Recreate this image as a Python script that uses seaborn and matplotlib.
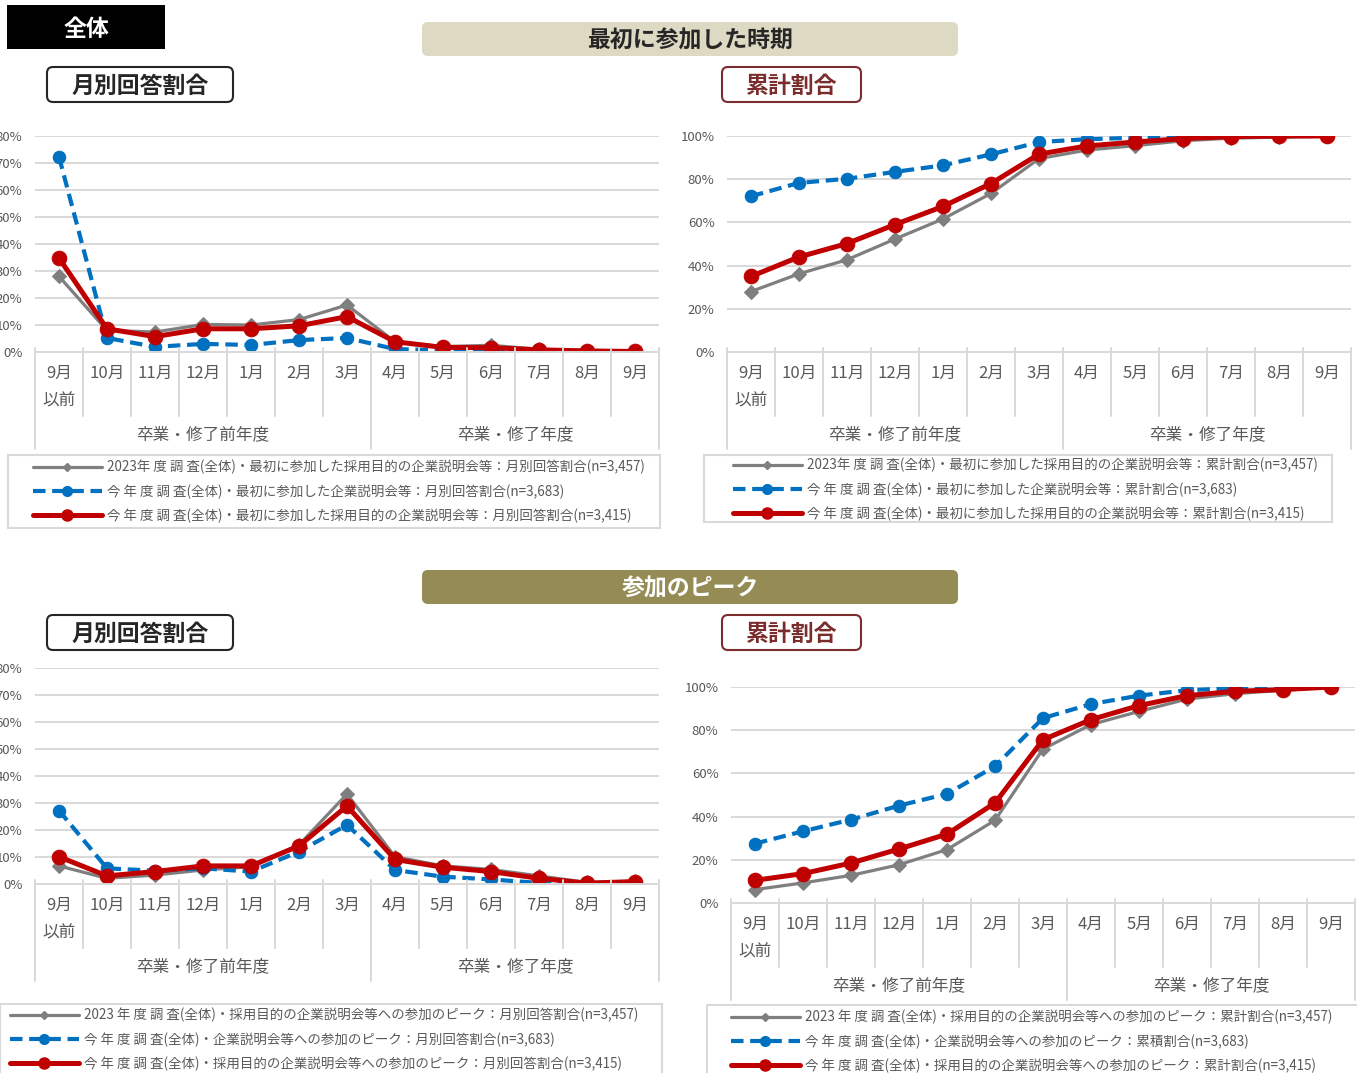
import numpy as np
import pandas as pd
import matplotlib
matplotlib.use("Agg")
import matplotlib.pyplot as plt
import matplotlib.transforms as mtrans
from matplotlib.patches import FancyBboxPatch, Rectangle
from matplotlib.lines import Line2D
import seaborn as sns

sns.set_style("white")
plt.rcParams['font.family'] = ['Noto Sans CJK JP', 'DejaVu Sans']

# ---- data (percent) ----
months = ["9月\n以前", "10月", "11月", "12月", "1月", "2月", "3月",
          "4月", "5月", "6月", "7月", "8月", "9月"]
groups = ["卒業・修了前年度", "卒業・修了年度"]

first_monthly_2023 = [28, 8, 7.4, 10.2, 10, 12, 17.4, 3.8, 2, 2.5, 1, 0.5, 0.3]
first_monthly_all = [72.3, 5.2, 1.9, 3.0, 2.6, 4.4, 5.2, 1.1, 0.6, 0.5, 0.3, 0.2, 0.1]
first_monthly_now = [34.8, 8.6, 5.7, 8.6, 8.6, 9.7, 13.1, 3.8, 1.7, 1.6, 0.8, 0.4, 0.2]

first_cum_2023 = [28, 36.2, 42.7, 52.3, 61.6, 73.4, 89.5, 93.5, 95.5, 97.8, 99, 99.5, 100]
first_cum_all = [72.1, 78.3, 80.2, 83.4, 86.4, 91.5, 97.2, 98.5, 99.2, 99.6, 99.8, 99.9, 100]
first_cum_now = [35, 44, 50.2, 59, 67.4, 78, 91.6, 95.4, 97.2, 98.8, 99.7, 100, 100]

peak_monthly_2023 = [6.7, 2.1, 3.3, 5.2, 6.4, 14.5, 33.3, 10.1, 6.7, 5.4, 3, 0.6, 1]
peak_monthly_all = [27.2, 5.8, 4.9, 5.8, 4.6, 12, 21.9, 5.2, 2.7, 1.7, 0.4, 0.3, 0.2]
peak_monthly_now = [10.1, 3, 4.6, 6.7, 6.7, 14.1, 28.9, 9.1, 6.2, 4.6, 2.1, 0.3, 0.9]

peak_cum_2023 = [6.2, 9.3, 12.8, 17.7, 24.7, 38.3, 71.3, 82.6, 88.7, 94.4, 96.9, 98.5, 100]
peak_cum_all = [27.5, 33.2, 38.6, 45.1, 50.5, 63.3, 85.6, 92.1, 96, 98.5, 99.5, 99.7, 100]
peak_cum_now = [10.5, 13.6, 18.5, 25, 31.9, 46.3, 75.6, 84.9, 91.4, 96, 98, 98.8, 100]

legend_first_monthly = [
    "2023年 度 調 査(全体)・最初に参加した採用目的の企業説明会等：月別回答割合(n=3,457)",
    "今 年 度 調 査(全体)・最初に参加した企業説明会等：月別回答割合(n=3,683)",
    "今 年 度 調 査(全体)・最初に参加した採用目的の企業説明会等：月別回答割合(n=3,415)"]
legend_first_cum = [
    "2023年 度 調 査(全体)・最初に参加した採用目的の企業説明会等：累計割合(n=3,457)",
    "今 年 度 調 査(全体)・最初に参加した企業説明会等：累計割合(n=3,683)",
    "今 年 度 調 査(全体)・最初に参加した採用目的の企業説明会等：累計割合(n=3,415)"]
legend_peak_monthly = [
    "2023 年 度 調 査(全体)・採用目的の企業説明会等への参加のピーク：月別回答割合(n=3,457)",
    "今 年 度 調 査(全体)・企業説明会等への参加のピーク：月別回答割合(n=3,683)",
    "今 年 度 調 査(全体)・採用目的の企業説明会等への参加のピーク：月別回答割合(n=3,415)"]
legend_peak_cum = [
    "2023 年 度 調 査(全体)・採用目的の企業説明会等への参加のピーク：累計割合(n=3,457)",
    "今 年 度 調 査(全体)・企業説明会等への参加のピーク：累積割合(n=3,683)",
    "今 年 度 調 査(全体)・採用目的の企業説明会等への参加のピーク：累計割合(n=3,415)"]

GRAY, BLUE, RED = "#7F7F7F", "#0070C0", "#C00000"
GRID = "#D9D9D9"
TXT = "#595959"
DARKRED = "#7B2C2C"

W, H = 1357, 1073
fig = plt.figure(figsize=(W / 100, H / 100), dpi=100)


def fx(x):
    return x / W


def fy(y):
    return 1 - y / H


def box(x0, y0, x1, y1, fc, ec="none", lw=0, rounded=True):
    style = "round,pad=0,rounding_size=0.06" if rounded else "square,pad=0"
    p = FancyBboxPatch(((x0) / 100, (H - y1) / 100), (x1 - x0) / 100, (y1 - y0) / 100,
                       boxstyle=style, fc=fc, ec=ec, lw=lw,
                       transform=fig.dpi_scale_trans)
    fig.add_artist(p)


def panel(left, top, right, bottom, s_gray, s_blue, s_red, ymax, ystep, grid_from):
    ax = fig.add_axes([fx(left), fy(bottom), fx(right - left), (bottom - top) / H])
    x = np.arange(len(months))
    df = pd.DataFrame({"x": x, "g": s_gray, "b": s_blue, "r": s_red})
    sns.lineplot(data=df, x="x", y="g", ax=ax, color=GRAY, lw=2.3, marker="D",
                 markersize=7, markeredgecolor=GRAY)
    sns.lineplot(data=df, x="x", y="b", ax=ax, color=BLUE, lw=3.0, linestyle=(0, (3, 1.6)),
                 marker="o", markersize=9, markeredgecolor=BLUE)
    sns.lineplot(data=df, x="x", y="r", ax=ax, color=RED, lw=3.6, marker="o",
                 markersize=10.5, markeredgecolor=RED)
    ax.set_xlim(-0.5, len(months) - 0.5)
    ax.set_ylim(0, ymax)
    yt = np.arange(0, ymax + 0.1, ystep)
    ax.set_yticks(yt)
    ax.set_yticklabels([f"{int(v)}%" for v in yt])
    for v in yt:
        if v >= grid_from:
            ax.axhline(v, color=GRID, lw=1.4, zorder=0)
    ax.set_xticks(x)
    ax.set_xticklabels(months)
    for lbl in ax.get_xticklabels():
        lbl.set_linespacing(1.85)
    ax.tick_params(axis="x", length=0, pad=9, labelsize=12, labelcolor=TXT)
    ax.tick_params(axis="y", length=0, pad=9, labelsize=9.5, labelcolor=TXT)
    ax.set_xlabel("")
    ax.set_ylabel("")
    for s in ["top", "right", "left"]:
        ax.spines[s].set_visible(False)
    ax.spines["bottom"].set_color(GRID)
    ax.spines["bottom"].set_linewidth(1.4)
    tr = mtrans.blended_transform_factory(ax.transData, ax.transAxes)
    h = bottom - top
    for k in range(len(months) + 1):
        xs = k - 0.5
        lo = -97 / h if k in (0, 7, len(months)) else -64 / h
        ax.plot([xs, xs], [0.02, lo], color=GRID, lw=1.4, transform=tr, clip_on=False)
    ax.text(3, -83 / h, groups[0], transform=tr, ha="center", va="center",
            fontsize=12, color=TXT)
    ax.text(9.5, -83 / h, groups[1], transform=tr, ha="center", va="center",
            fontsize=12, color=TXT)
    return ax


def legend(x0, y0, x1, y1, hx, ty, labels):
    fig.add_artist(Rectangle((fx(x0), fy(y1)), fx(x1 - x0), (y1 - y0) / H,
                             fill=False, ec=GRID, lw=1.5, transform=fig.transFigure))
    handles = [
        Line2D([], [], color=GRAY, lw=2.3, marker="D", markersize=4),
        Line2D([], [], color=BLUE, lw=3.0, linestyle=(0, (3, 1.6)), marker="o", markersize=7),
        Line2D([], [], color=RED, lw=3.6, marker="o", markersize=8),
    ]
    fig.legend(handles, labels, loc="upper left", bbox_to_anchor=(fx(hx), fy(ty)),
               frameon=False, fontsize=9.7, handlelength=5.1, handletextpad=0.4,
               labelspacing=0.72, borderpad=0, borderaxespad=0, labelcolor=TXT)


panel(35, 136, 659, 352, first_monthly_2023, first_monthly_all, first_monthly_now, 80, 10, 10)
panel(727, 136, 1351, 352, first_cum_2023, first_cum_all, first_cum_now, 100, 20, 20)
panel(35, 668, 659, 884, peak_monthly_2023, peak_monthly_all, peak_monthly_now, 80, 10, 10)
panel(731, 687, 1355, 903, peak_cum_2023, peak_cum_all, peak_cum_now, 100, 20, 20)

legend(8, 455, 660, 528, 33, 460, legend_first_monthly)
legend(704, 455, 1332, 522, 733, 458, legend_first_cum)
legend(0, 1004, 662, 1090, 10, 1008, legend_peak_monthly)
legend(707, 1005, 1370, 1090, 731, 1010, legend_peak_cum)

# ---- headers ----
box(7, 5, 165, 49, "black", rounded=False)
fig.text(fx(86), fy(29), "全体", ha="center", va="center", fontsize=16.5,
         fontweight="bold", color="white")
box(422, 22, 958, 56, "#DDD9C3")
fig.text(fx(690), fy(41), "最初に参加した時期", ha="center", va="center",
         fontsize=16.5, fontweight="bold", color="#262626")
box(422, 570, 958, 604, "#958B54")
fig.text(fx(690), fy(589), "参加のピーク", ha="center", va="center",
         fontsize=16.5, fontweight="bold", color="white")
for yy in (67, 615):
    box(47, yy, 233, yy + 35, "white", ec="#262626", lw=1.5)
    fig.text(fx(140), fy(yy + 19), "月別回答割合", ha="center", va="center",
             fontsize=16.5, fontweight="bold", color="#262626")
    box(722, yy, 861, yy + 35, "white", ec=DARKRED, lw=1.5)
    fig.text(fx(791), fy(yy + 19), "累計割合", ha="center", va="center",
             fontsize=16.5, fontweight="bold", color=DARKRED)

fig.savefig("out.png", dpi=100)
